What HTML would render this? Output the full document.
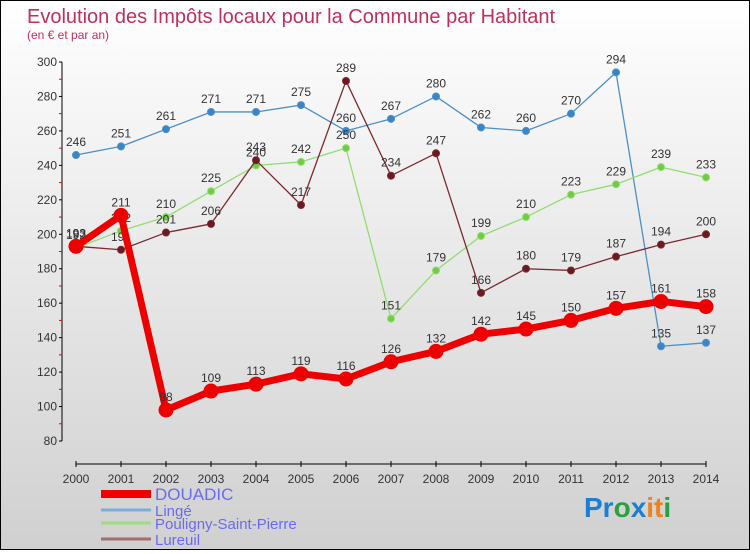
<!DOCTYPE html>
<html><head><meta charset="utf-8"><style>
html,body{margin:0;padding:0}
body{width:750px;height:550px;overflow:hidden;font-family:"Liberation Sans",sans-serif}
#wrap{position:relative;width:748px;height:548px;border:1px solid #000;background:linear-gradient(#ffffff 0%,#ececec 40%,#d0d0d0 100%)}
</style></head><body>
<div id="wrap">
<svg id="chart" width="748" height="548" xmlns="http://www.w3.org/2000/svg">
<text x="26" y="22" font-size="20" fill="#c0305a">Evolution des Impôts locaux pour la Commune par Habitant</text>
<text x="26" y="38" font-size="12" fill="#c0305a">(en € et par an)</text>
<g id="axes"></g>
<g id="series"></g>
<g id="legend"></g>
<text x="583" y="516" font-size="28" font-weight="bold"><tspan fill="#1a7fd0">Pr</tspan><tspan fill="#2aa040">o</tspan><tspan fill="#1a7fd0">x</tspan><tspan fill="#f08020">it</tspan><tspan fill="#2aa040">i</tspan></text>
</svg>
</div>
<script>
const years=[2000,2001,2002,2003,2004,2005,2006,2007,2008,2009,2010,2011,2012,2013,2014];
const yTicks=[80,100,120,140,160,180,200,220,240,260,280,300];
const douadic=[193,211,98,109,113,119,116,126,132,142,145,150,157,161,158];
const linge=[246,251,261,271,271,275,260,267,280,262,260,270,294,135,137];
const pouligny=[192,202,210,225,240,242,250,151,179,199,210,223,229,239,233];
const lureuil=[193,191,201,206,243,217,289,234,247,166,180,179,187,194,200];
const seriesNames=["DOUADIC","Lingé","Pouligny-Saint-Pierre","Lureuil"];

const NS="http://www.w3.org/2000/svg";
const x=i=>75+i*(630/14);
const y=v=>440-(v-80)*(379/220);
function mk(tag,attrs,parent){const e=document.createElementNS(NS,tag);for(const k in attrs)e.setAttribute(k,attrs[k]);parent.appendChild(e);return e;}
const axes=document.getElementById('axes'),sg=document.getElementById('series'),lg=document.getElementById('legend');

let a=mk('line',{x1:61,y1:y(300),x2:61,y2:440,stroke:'#000'},axes);


a=mk('line',{x1:75,y1:463,x2:705,y2:463,stroke:'#000'},axes);


yTicks.forEach(v=>{
  mk('line',{x1:58,y1:y(v),x2:61,y2:y(v),stroke:'#000'},axes);
  if(v<300) mk('line',{x1:58,y1:y(v+10),x2:61,y2:y(v+10),stroke:'#e00'},axes);
  const t=mk('text',{x:56,y:y(v)+4,'font-size':12,'text-anchor':'end',fill:'#333'},axes);
  t.textContent=v;
  
  
});
years.forEach((yr,i)=>{
  mk('line',{x1:x(i),y1:460,x2:x(i),y2:466,stroke:'#000'},axes);
  const t=mk('text',{x:x(i),y:482,'font-size':12,'text-anchor':'middle',fill:'#333'},axes);
  t.textContent=yr;
  
  
});

function draw(data,color,width,r,dot,name){
  const g=mk('g',{},sg);
  
  
  const p=mk('polyline',{points:data.map((v,i)=>x(i)+','+y(v)).join(' '),fill:'none',stroke:color,'stroke-width':width,'stroke-linejoin':'round'},g);
  
  
  data.forEach((v,i)=>{
    const c=mk('circle',{cx:x(i),cy:y(v),r:r,fill:dot,stroke:color,'stroke-width':1},g);
    
    
    const t=mk('text',{x:x(i),y:y(v)-9,'font-size':12,'text-anchor':'middle',fill:'#333'},g);
    t.textContent=v;
    
    
  });
}
draw(linge,'#4a90c8',1.3,3.5,'#3a85c5','linge');
draw(pouligny,'#90dd70',1.3,3.5,'#70cc40','pouligny');
draw(lureuil,'#7a2a30',1.3,3.5,'#6a1a20','lureuil');
draw(douadic,'#ee0000',7,7,'#ee0000','douadic');

const lc=['#ee0000','#7aaed8','#a0dd80','#a07070'],lw=[8,3,3,3],ly=[493,509,522,538];
seriesNames.forEach((n,i)=>{
  const l=mk('line',{x1:100,y1:ly[i],x2:150,y2:ly[i],stroke:lc[i],'stroke-width':lw[i]},lg);
  
  
  const t=mk('text',{x:154,y:ly[i]+6,'font-size':i==0?17:15,fill:'#6a6af0'},lg);
  t.textContent=n;
  
  
});
</script>
</body></html>
